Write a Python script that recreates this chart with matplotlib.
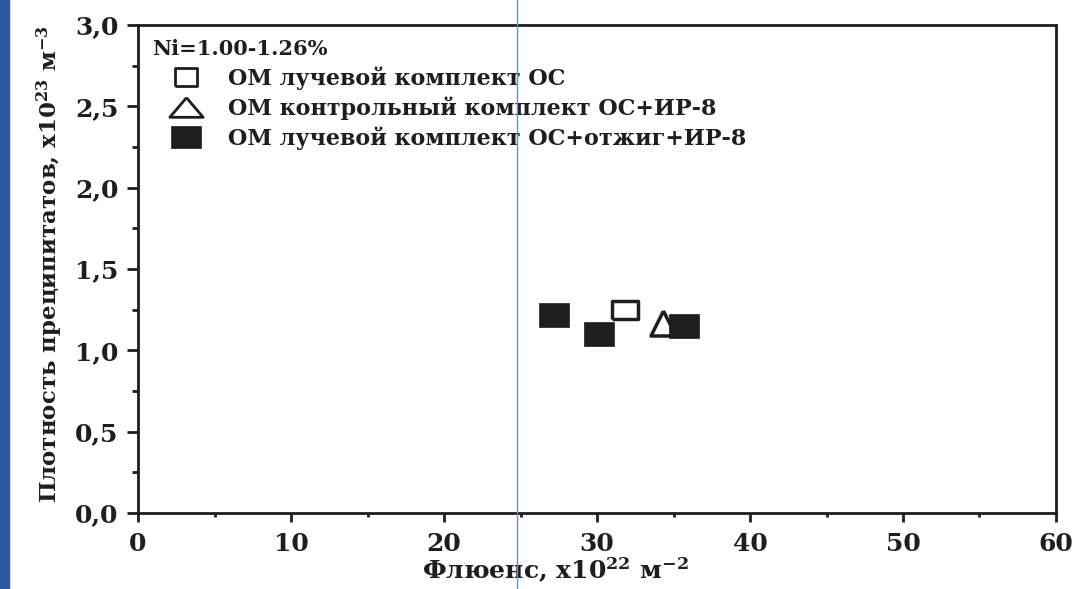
import matplotlib
matplotlib.use("Agg")
import matplotlib.pyplot as plt
from matplotlib.lines import Line2D
from matplotlib.patches import Rectangle
from matplotlib.ticker import MultipleLocator, FuncFormatter

plt.rcParams['font.family'] = ['DejaVu Serif']
plt.rcParams['font.weight'] = 'bold'
plt.rcParams['axes.labelweight'] = 'bold'
plt.rcParams['mathtext.fontset'] = 'custom'
plt.rcParams['mathtext.rm'] = 'DejaVu Serif:bold'
plt.rcParams['mathtext.it'] = 'DejaVu Serif:bold'
plt.rcParams['mathtext.bf'] = 'DejaVu Serif:bold'

# данные
x_os = [31.8]
y_os = [1.25]
x_ir = [34.3]
y_ir = [1.17]
x_ann = [27.2, 30.1, 35.7]
y_ann = [1.22, 1.10, 1.15]

labels = ["ОМ лучевой комплект ОС",
          "ОМ контрольный комплект ОС+ИР-8",
          "ОМ лучевой комплект ОС+отжиг+ИР-8"]
title = "Ni=1.00-1.26%"

ink = '#1e1e1e'


def rect(r):
    return [(-r, -1), (r, -1), (r, 1), (-r, 1), (-r, -1)]


def tri(r):
    return [(0, 1), (-r, -1), (r, -1), (0, 1)]


fig = plt.figure(figsize=(10.76, 5.89), dpi=100)
ax = fig.add_axes([138 / 1076, 1 - 513 / 589, (1056 - 138) / 1076, (513 - 25) / 589])

ax.plot(x_ir, y_ir, marker=tri(1.0), ms=18, mfc='white', mec=ink, mew=2.5, ls='none')
ax.plot(x_os, y_os, marker=rect(1.4), ms=19, mfc='white', mec=ink, mew=2.5, ls='none')
ax.plot(x_ann, y_ann, marker=rect(1.3), ms=22, mfc=ink, mec=ink, mew=0.5, ls='none')

ax.set_xlim(0, 60)
ax.set_ylim(0, 3.0)
ax.xaxis.set_major_locator(MultipleLocator(10))
ax.xaxis.set_minor_locator(MultipleLocator(5))
ax.yaxis.set_major_locator(MultipleLocator(0.5))
ax.yaxis.set_minor_locator(MultipleLocator(0.25))
ax.yaxis.set_major_formatter(FuncFormatter(lambda v, p: f"{v:.1f}".replace('.', ',')))

ax.tick_params(which='both', direction='out', width=2, colors=ink, labelsize=18)
ax.tick_params(axis='x', which='major', length=6.5, pad=7)
ax.tick_params(axis='x', which='minor', length=3)
ax.tick_params(axis='y', which='major', length=8, pad=6)
ax.tick_params(axis='y', which='minor', length=4.3)
for s in ax.spines.values():
    s.set_linewidth(2)
    s.set_color(ink)

ax.set_xlabel("Флюенс, x10$^{22}$ м$^{-2}$", fontsize=18, color=ink)
ax.set_ylabel("Плотность преципитатов, x10$^{23}$ м$^{-3}$", fontsize=16.5, color=ink)
ax.xaxis.set_label_coords((555 - 138) / 918, -0.088)
ax.yaxis.set_label_coords(-0.08, 0.51)

handles = [
    Line2D([], [], ls='none', marker=rect(1.2), ms=16, mfc='white', mec=ink, mew=2),
    Line2D([], [], ls='none', marker=tri(1.7), ms=24, mfc='white', mec=ink, mew=2),
    Line2D([], [], ls='none', marker=rect(1.3), ms=21, mfc=ink, mec=ink, mew=0.5),
]
leg = ax.legend(handles, labels, title=title, loc='upper left', bbox_to_anchor=(0.0, 1.0),
                frameon=False, fontsize=16, title_fontsize=15, handlelength=3.0,
                handletextpad=0.4, borderpad=0.35, borderaxespad=0.3, labelspacing=0.3,
                alignment='left')
for t in leg.get_texts():
    t.set_color(ink)
leg.get_title().set_fontweight('bold')
leg.get_title().set_color(ink)

# синяя полоса слева и тонкая вертикальная линия
fig.add_artist(Rectangle((0, 0), 9 / 1076, 1, transform=fig.transFigure, color='#2b58a2', zorder=0))
fig.add_artist(Line2D([516.5 / 1076, 516.5 / 1076], [0, 1], transform=fig.transFigure,
                      color='#6a8fca', lw=1))

fig.savefig("out.png", dpi=100)
